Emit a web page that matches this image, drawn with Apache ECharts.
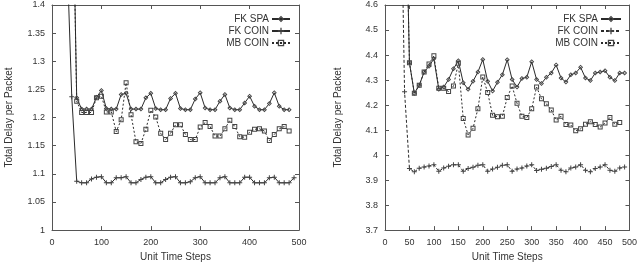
<!DOCTYPE html>
<html>
<head>
<meta charset="utf-8">
<script src="https://cdn.jsdelivr.net/npm/echarts@6/dist/echarts.min.js"></script>
<style>
html,body{margin:0;padding:0;background:#fff;}
#c{width:640px;height:267px;}
</style>
</head>
<body>
<div id="c"></div>
<script>
// Time steps (x values) shared by every series
const steps = [30,40,50,60,70,80,90,100,110,120,130,140,150,160,170,180,190,200,210,220,230,240,250,260,270,280,290,300,310,320,330,340,350,360,370,380,390,400,410,420,430,440,450,460,470,480,490];

// Left panel
const leftFkSpa = [null,1.72,1.235,1.215,1.215,1.215,1.236,1.248,1.216,1.215,1.215,1.241,1.243,1.215,1.215,1.215,1.235,1.243,1.216,1.214,1.214,1.234,1.243,1.216,1.214,1.214,1.233,1.244,1.217,1.214,1.214,1.229,1.241,1.217,1.214,1.214,1.226,1.238,1.220,1.214,1.214,1.225,1.244,1.220,1.214,1.214,null];
const leftFkCoin = [1.5,1.237,1.087,1.084,1.084,1.091,1.094,1.095,1.084,1.084,1.093,1.093,1.095,1.084,1.084,1.090,1.094,1.095,1.084,1.084,1.090,1.094,1.095,1.084,1.084,1.086,1.093,1.095,1.084,1.084,1.084,1.093,1.095,1.084,1.084,1.084,1.094,1.094,1.084,1.084,1.084,1.093,1.094,1.084,1.084,1.084,1.093];
const leftMbCoin = [null,1.72,1.229,1.209,1.209,1.209,1.235,1.238,1.210,1.210,1.175,1.196,1.262,1.205,1.157,1.154,1.179,1.213,1.201,1.172,1.161,1.172,1.187,1.187,1.170,1.161,1.161,1.183,1.191,1.184,1.167,1.167,1.180,1.195,1.184,1.166,1.165,1.174,1.179,1.180,1.176,1.159,1.170,1.180,1.184,1.176,null];

// Right panel
const rightFkSpa = [null,5.3,4.369,4.247,4.279,4.332,4.355,4.385,4.263,4.272,4.302,4.345,4.377,4.289,4.263,4.295,4.332,4.382,4.295,4.256,4.291,4.321,4.381,4.302,4.272,4.306,4.311,4.373,4.302,4.286,4.311,4.328,4.36,4.308,4.292,4.321,4.328,4.351,4.308,4.298,4.328,4.332,4.337,4.311,4.298,4.328,4.328];
const rightFkCoin = [5.4,4.253,3.946,3.933,3.947,3.952,3.956,3.961,3.935,3.948,3.955,3.961,3.961,3.935,3.946,3.951,3.959,3.961,3.935,3.944,3.951,3.959,3.961,3.935,3.944,3.948,3.956,3.961,3.938,3.943,3.947,3.954,3.961,3.939,3.933,3.948,3.952,3.961,3.939,3.933,3.946,3.952,3.961,3.939,3.935,3.948,3.952];
const rightMbCoin = [null,5.3,4.369,4.247,4.279,4.332,4.364,4.397,4.267,4.267,4.254,4.276,4.367,4.146,4.080,4.107,4.185,4.312,4.25,4.159,4.153,4.155,4.23,4.276,4.207,4.155,4.15,4.185,4.272,4.225,4.205,4.18,4.14,4.155,4.122,4.12,4.097,4.105,4.123,4.133,4.122,4.112,4.128,4.15,4.123,4.13,null];

// Axis ranges / ticks
const leftX = {min:0, max:500, interval:100};
const rightX = {min:0, max:500, interval:50};
const leftY = {min:1, max:1.4, interval:0.05};
const rightY = {min:3.7, max:4.6, interval:0.1};
const seriesNames = ['FK SPA','FK COIN','MB COIN'];
const xTitle = 'Unit Time Steps';
const yTitle = 'Total Delay per Packet';

const FONT = "'Liberation Sans', Arial, sans-serif";
const AX = '#555';
const TXT = '#333';
const LINE = '#2a2a2a';
const MARK = '#444';
// outline (hollow) marker shapes, so the line stays visible through them
const plusPath = 'path://M4,0H6V4H10V6H6V10H4V6H0V4H4Z';
const diamondRing = 'path://M5,0L10,5L5,10L0,5Z M5,2.6L2.6,5L5,7.4L7.4,5Z';
const squareRing = 'path://M0,0H10V10H0Z M2,2V8H8V2Z';

function pairs(vals){ return steps.map((s,i)=> [s, vals[i]==null ? null : vals[i]]); }

function xAxes(grid, r){
  const base = {gridIndex:grid, type:'value', min:r.min, max:r.max, interval:r.interval,
    axisLine:{show:true, onZero:false, lineStyle:{color:AX, width:1}},
    axisTick:{show:true, inside:true, length:4, lineStyle:{color:AX}},
    splitLine:{show:false}};
  return [
    Object.assign({}, base, {position:'bottom',
      axisLabel:{fontSize:9, color:TXT, fontFamily:FONT, margin:8},
      name:xTitle, nameLocation:'middle', nameGap:20,
      nameTextStyle:{fontSize:10, color:TXT, fontFamily:FONT}}),
    Object.assign({}, base, {position:'top', axisLabel:{show:false}})
  ];
}
function yAxes(grid, r, gap){
  const base = {gridIndex:grid, type:'value', min:r.min, max:r.max, interval:r.interval,
    axisLine:{show:true, onZero:false, lineStyle:{color:AX, width:1}},
    axisTick:{show:true, inside:true, length:4, lineStyle:{color:AX}},
    splitLine:{show:false}};
  return [
    Object.assign({}, base, {position:'left',
      axisLabel:{fontSize:9, color:TXT, fontFamily:FONT, margin:7,
        formatter: v => String(+(+v).toFixed(2))},
      name:yTitle, nameLocation:'middle', nameGap:gap,
      nameTextStyle:{fontSize:10, color:TXT, fontFamily:FONT}}),
    Object.assign({}, base, {position:'right', axisLabel:{show:false}})
  ];
}

function mk(name, vals, grid, kind, dash){
  const s = {name:name, type:'line', xAxisIndex:grid*2, yAxisIndex:grid*2, data:pairs(vals),
    animation:false, clip:true, connectNulls:false, showAllSymbol:true,
    lineStyle:{color:LINE, width:1, type: dash || 'solid'},
    itemStyle:{color:MARK, borderWidth:0},
    emphasis:{disabled:true}};
  if(kind==='spa'){ s.symbol=diamondRing; s.symbolSize=5; }
  if(kind==='coin'){ s.symbol=plusPath; s.symbolSize=5; }
  if(kind==='mb'){ s.symbol=squareRing; s.symbolSize=5; }
  return s;
}

const chart = echarts.init(document.getElementById('c'), null, {renderer:'canvas'});
const option = {
  backgroundColor:'#fff',
  animation:false,
  grid:[
    {left:52, top:5, width:247, height:232, containLabel:false},
    {left:385, top:5, width:245, height:232, containLabel:false}
  ],
  xAxis: xAxes(0, leftX).concat(xAxes(1, rightX)),
  yAxis: yAxes(0, leftY, 38).concat(yAxes(1, rightY, 42)),
  legend:[
    {data:seriesNames.map(n=>'L '+n), formatter:n=>n.slice(2), orient:'vertical', align:'right',
     right:349, top:14, padding:0, itemWidth:18, itemHeight:8, itemGap:2, selectedMode:false,
     textStyle:{fontSize:10, color:TXT, fontFamily:FONT, padding:[0,-2,0,0]}},
    {data:seriesNames.map(n=>'R '+n), formatter:n=>n.slice(2), orient:'vertical', align:'right',
     right:18, top:14, padding:0, itemWidth:20, itemHeight:8, itemGap:2, selectedMode:false,
     textStyle:{fontSize:10, color:TXT, fontFamily:FONT, padding:[0,-2,0,0]}}
  ],
  series:[
    mk('L '+seriesNames[0], leftFkSpa, 0, 'spa'),
    mk('L '+seriesNames[1], leftFkCoin, 0, 'coin'),
    mk('L '+seriesNames[2], leftMbCoin, 0, 'mb', [2,2]),
    mk('R '+seriesNames[0], rightFkSpa, 1, 'spa'),
    mk('R '+seriesNames[1], rightFkCoin, 1, 'coin', [3,2]),
    mk('R '+seriesNames[2], rightMbCoin, 1, 'mb', [2,2])
  ]
};
chart.setOption(option);
</script>
</body>
</html>
